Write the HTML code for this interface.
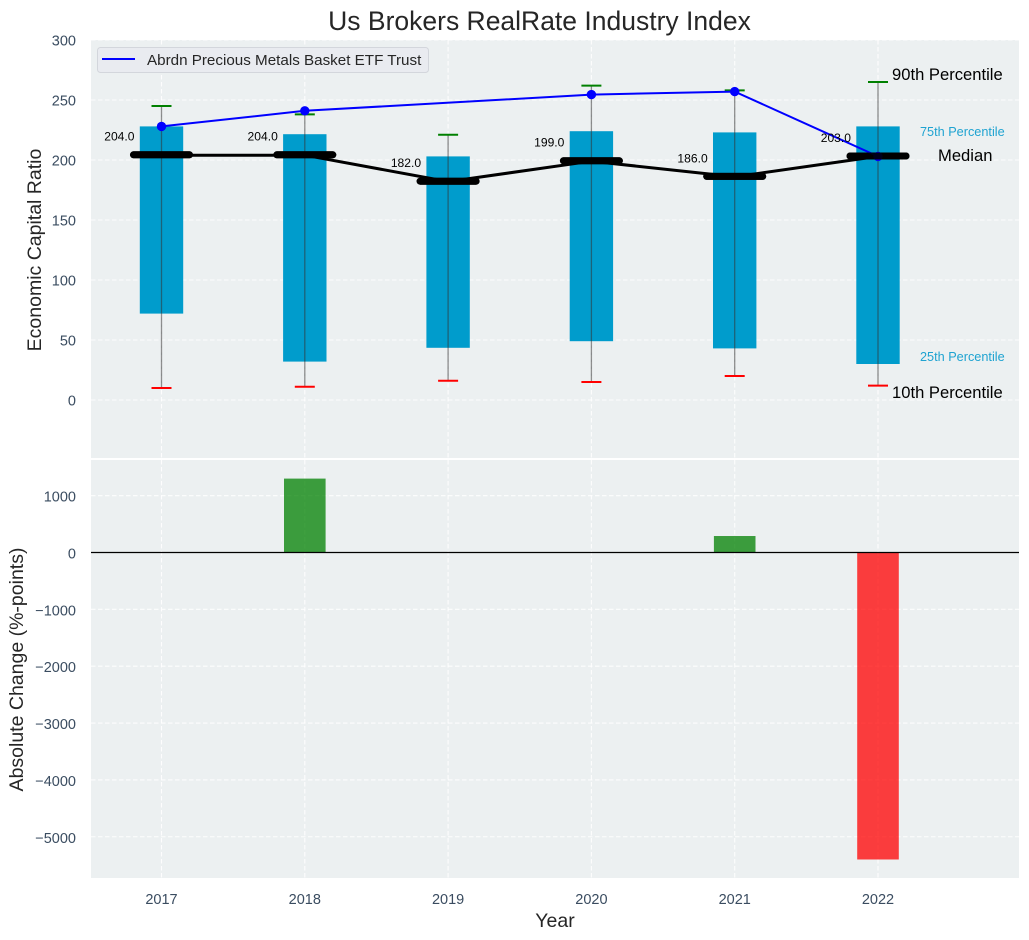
<!DOCTYPE html>
<html>
<head>
<meta charset="utf-8">
<style>
html,body{margin:0;padding:0;background:#fff;}
svg{display:block;font-family:"Liberation Sans",Arial,sans-serif;}
</style>
</head>
<body>
<svg id="chart" width="1029" height="940" viewBox="0 0 1029 940" xmlns="http://www.w3.org/2000/svg"></svg>
<script>
const years = [2017, 2018, 2019, 2020, 2021, 2022];
const p90 = [245, 238, 221, 262, 258, 265];
const p75 = [228, 221.5, 203, 224, 223, 228];
const medians = [204, 204, 182, 199, 186, 203];
const p25 = [72, 32, 43.5, 49, 43, 30];
const p10 = [10, 11, 16, 15, 20, 12];
const company = [228, 241, null, 254.5, 257, 203];
const changes = [null, 1300, null, null, 290, -5400];
const topTicks = [0, 50, 100, 150, 200, 250, 300];
const bottomTicks = [-5000, -4000, -3000, -2000, -1000, 0, 1000];

const svg = document.getElementById('chart');
const NS = 'http://www.w3.org/2000/svg';
const L = 91, R = 1019;
const T1 = 40, B1 = 458, T2 = 460, B2 = 878;
function x(v){ return 161.5 + (v - 2017) * 143.3; }
function yTop(v){ return 400 - v * 1.2; }
function yBot(v){ return 552.5 - v * 0.05685; }

function add(tag, attrs, parent, text){
  const el = document.createElementNS(NS, tag);
  for (const k in attrs) el.setAttribute(k, attrs[k]);
  if (text !== undefined) el.textContent = text;
  (parent || svg).appendChild(el);
  return el;
}
const tickColor = '#3a4c60';
const textColor = '#262626';

// panels
const panelTop = add('rect', {x:L, y:T1, width:R-L, height:B1-T1, fill:'#ecf0f1'});


const panelBottom = add('rect', {x:L, y:T2, width:R-L, height:B2-T2, fill:'#ecf0f1'});



// grid
const gridAttrs = {stroke:'#ffffff', 'stroke-width':1.1, 'stroke-dasharray':'4.5 2.5', opacity:0.9};
topTicks.forEach(function(t){
  const g = add('line', Object.assign({x1:L, x2:R, y1:yTop(t), y2:yTop(t)}, gridAttrs));
  
  
  const lab = add('text', {x:76, y:yTop(t)+5.5, 'text-anchor':'end', 'font-size':14.5, fill:tickColor}, svg, String(t));
  
  
});
bottomTicks.forEach(function(t){
  const g = add('line', Object.assign({x1:L, x2:R, y1:yBot(t), y2:yBot(t)}, gridAttrs));
  
  
  const lab = add('text', {x:76, y:yBot(t)+6, 'text-anchor':'end', 'font-size':14.5, fill:tickColor}, svg, String(t).replace('-', '\u2212'));
  
  
});
years.forEach(function(yr){
  const a = add('line', Object.assign({x1:x(yr), x2:x(yr), y1:T1, y2:B1}, gridAttrs));
  
  
  const b = add('line', Object.assign({x1:x(yr), x2:x(yr), y1:T2, y2:B2}, gridAttrs));
  
  
  const lab = add('text', {x:x(yr), y:904, 'text-anchor':'middle', 'font-size':14.5, fill:tickColor}, svg, String(yr));
  
  
});

// boxes
years.forEach(function(yr, i){
  const box = add('rect', {x:x(yr)-21.7, y:yTop(p75[i]), width:43.4, height:yTop(p25[i])-yTop(p75[i]), fill:'#009ccc'});
  
  
});
// median connecting line
const medianLine = add('polyline', {points:years.map(function(yr,i){return x(yr)+','+yTop(medians[i]);}).join(' '), fill:'none', stroke:'#000', 'stroke-width':3});



// whiskers and caps
years.forEach(function(yr, i){
  const w = add('line', {x1:x(yr), x2:x(yr), y1:yTop(p90[i]), y2:yTop(p10[i]), stroke:'#333', 'stroke-opacity':0.55, 'stroke-width':1.3});
  
  
  const c90 = add('line', {x1:x(yr)-10, x2:x(yr)+10, y1:yTop(p90[i]), y2:yTop(p90[i]), stroke:'#008000', 'stroke-width':2});
  
  
  const c10 = add('line', {x1:x(yr)-10, x2:x(yr)+10, y1:yTop(p10[i]), y2:yTop(p10[i]), stroke:'#ff0000', 'stroke-width':2});
  
  
});

// median caps
years.forEach(function(yr, i){
  const c = add('line', {x1:x(yr)-28, x2:x(yr)+28, y1:yTop(medians[i])-0.4, y2:yTop(medians[i])-0.4, stroke:'#000', 'stroke-width':7, 'stroke-linecap':'round'});
  
  
});

// company line
const known = years.map(function(yr,i){return company[i]===null?null:[x(yr),yTop(company[i])];}).filter(Boolean);
const compLine = add('polyline', {points:known.map(function(p){return p.join(',');}).join(' '), fill:'none', stroke:'#0000ff', 'stroke-width':2});


known.forEach(function(p){
  const m = add('circle', {cx:p[0], cy:p[1], r:4.7, fill:'#0000ff'});
  
  
});

// redraw median caps over the company line with slight translucency, plus labels
years.forEach(function(yr, i){
  const c = add('line', {x1:x(yr)-28, x2:x(yr)+28, y1:yTop(medians[i])-0.4, y2:yTop(medians[i])-0.4, stroke:'#000', 'stroke-width':7, 'stroke-linecap':'round', 'stroke-opacity':0.9});
  
  
  const t = add('text', {x:x(yr)-27, y:yTop(medians[i])-14.5, 'text-anchor':'end', 'font-size':12.1, fill:'#000'}, svg, medians[i].toFixed(1));
  
  
});

// percentile annotations
const a90 = add('text', {x:892, y:80, 'font-size':16.6, fill:'#000'}, svg, '90th Percentile');


const a75 = add('text', {x:920, y:136, 'font-size':12.7, fill:'#1fa3d1'}, svg, '75th Percentile');


const aMed = add('text', {x:938, y:161, 'font-size':16.6, fill:'#000'}, svg, 'Median');


const a25 = add('text', {x:920, y:361, 'font-size':12.7, fill:'#1fa3d1'}, svg, '25th Percentile');


const a10 = add('text', {x:892, y:398, 'font-size':16.6, fill:'#000'}, svg, '10th Percentile');



// change bars
years.forEach(function(yr, i){
  if (changes[i] === null) return;
  const v = changes[i];
  const y0 = yBot(Math.max(v,0)), y1 = yBot(Math.min(v,0));
  const b = add('rect', {x:x(yr)-20.8, y:y0, width:41.6, height:y1-y0, fill:v>0?'#008000':'#ff0000', 'fill-opacity':0.75});
  
  
});
const zero = add('line', {x1:L, x2:R, y1:yBot(0), y2:yBot(0), stroke:'#000', 'stroke-width':1.3});



// legend
const legendBox = add('rect', {x:97.5, y:47.5, width:331, height:25, rx:3, fill:'#e9ebf0', stroke:'#d3d6dc', 'stroke-width':1});


const legendLine = add('line', {x1:102, x2:135, y1:59, y2:59, stroke:'#0000ff', 'stroke-width':2});


const legendText = add('text', {x:147, y:65, 'font-size':15.2, fill:textColor}, svg, 'Abrdn Precious Metals Basket ETF Trust');



// titles
const title = add('text', {x:539.5, y:30, 'text-anchor':'middle', 'font-size':26.5, fill:textColor}, svg, 'Us Brokers RealRate Industry Index');


const xTitle = add('text', {x:555, y:927, 'text-anchor':'middle', 'font-size':19.5, fill:textColor}, svg, 'Year');


const yTitle1 = add('text', {transform:'translate(41 250) rotate(-90)', 'text-anchor':'middle', 'font-size':19.5, fill:textColor}, svg, 'Economic Capital Ratio');


const yTitle2 = add('text', {transform:'translate(23 669.5) rotate(-90)', 'text-anchor':'middle', 'font-size':19.5, fill:textColor}, svg, 'Absolute Change (%-points)');


</script>
</body>
</html>
